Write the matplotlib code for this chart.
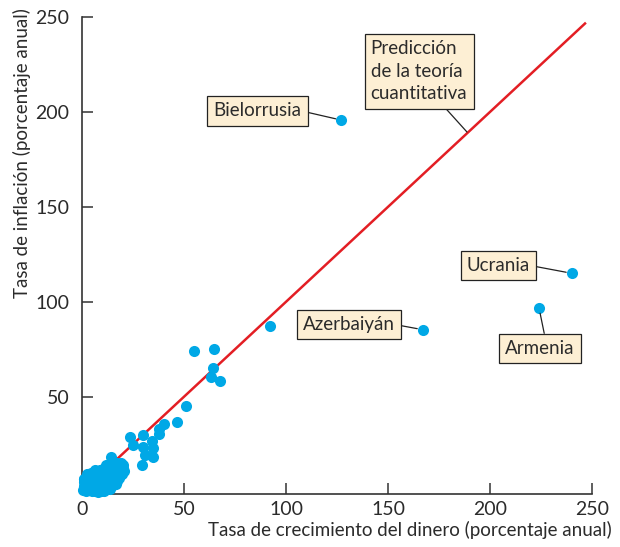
import matplotlib
matplotlib.use("Agg")
import matplotlib.pyplot as plt

plt.rcParams['font.family'] = ['Lato', 'DejaVu Sans']

# money growth (x) and inflation (y), percent per year
money_outer = [127, 240, 224, 167, 92, 55, 64.7, 64.4, 63.2, 67.6, 51, 46.4, 40.3,
               37.7, 37.7, 30, 23.5, 25.1, 34.2, 30, 35, 30.9, 34.6, 29.6, 14.2]
infl_outer = [195.7, 115, 96.8, 85.3, 87.2, 74.2, 75.1, 65.3, 60.2, 58.4, 45.1, 36.8, 35.4,
              33, 30.5, 29.7, 28.7, 24.5, 26.5, 23.7, 23.1, 19.3, 18.1, 14, 18]

money_cluster = [0.6, 1.8, 3.2, 1.2, 2.5, 0.8, 3.6, 4.3, 5.4, 6.5, 4.1, 2.9, 5.2, 6.3,
                 7.4, 8.5, 9.3, 2.2, 4.2, 5.3, 6.1, 7.3, 8.2, 9.4, 10.3, 11.2, 6.2,
                 7.1, 8.3, 9.1, 10.2, 11.4, 12.1, 13.3, 8.4, 9.2, 10.1, 11.3, 12.4,
                 13.1, 14.2, 15.3, 10.4, 11.1, 12.2, 13.4, 14.1, 15.2, 16.3, 17.1,
                 12.3, 13.2, 14.4, 15.1, 16.2, 17.4, 18.1, 15.4, 16.1, 17.2, 18.3,
                 19.1, 19.8, 17.3, 18.2, 19.4, 20.1, 19.2, 20.2, 20.4, 6.4, 3.4,
                 1.5, 0.9, 4.8, 7.8, 10.8, 13.8, 16.8, 1.1, 2.6, 4.5, 8.9, 11.8]
infl_cluster = [0.8, 0.2, 1.1, 3.2, 4.1, 5.3, 3.3, 2.1, 1.2, 0.3, 5.2, 6.4, 4.3, 3.1,
                2.2, 1.1, 0.4, 7.2, 8.1, 7.3, 6.2, 5.1, 4.2, 3.3, 2.1, 1.3, 9.2,
                8.1, 7.2, 6.1, 5.3, 4.1, 3.2, 2.2, 10.1, 9.3, 8.2, 7.1, 6.3, 5.2,
                4.1, 3.4, 12.1, 11.2, 10.1, 9.3, 8.2, 7.1, 6.3, 5.4, 13.2, 12.1,
                11.3, 10.2, 9.1, 8.3, 7.2, 14.1, 13.2, 12.3, 11.1, 10.2, 9.3,
                15.2, 14.1, 13.3, 12.2, 15.1, 14.2, 11.1, 11.2, 9.1, 2.1, 6.8,
                0.1, -0.2, 0.6, 1.4, 4.2, 6.9, 9.4, 9.9, 11.6, 14.0]

line_x = [0, 247]
line_y = [0, 247]

labels = ["Bielorrusia", "Ucrania", "Armenia", "Azerbaiyán"]
label_targets = [(127, 195.7), (240, 115), (224, 96.8), (167, 85.3)]
label_pos = [(86.0, 200.5), (204.2, 119.1), (224.5, 75.4), (130.9, 88.0)]
label_rel = [(1, 0.5), (1, 0.5), (0.58, 1), (1, 0.5)]

dot_col = '#00a8e6'
box_col = '#fdefd4'
txt_col = '#2b2b2b'

fig = plt.figure(figsize=(6.2, 5.47), dpi=100)
ax = fig.add_axes([0.1323, 0.096, 0.8226, 0.873])

ax.plot(line_x, line_y, color='#e31e24', lw=1.8, zorder=2, solid_capstyle='butt')
ax.scatter(money_cluster, infl_cluster, s=64, color=dot_col, lw=0, zorder=3, clip_on=False)
ax.scatter(money_outer, infl_outer, s=64, color=dot_col, lw=0, zorder=3, clip_on=False)

bbox = dict(boxstyle='square,pad=0.33', fc=box_col, ec='#222222', lw=0.9)
for name, xy, pos, rel in zip(labels, label_targets, label_pos, label_rel):
    ax.annotate(name, xy=xy, xytext=pos, ha='center', va='center', fontsize=13.5,
                color=txt_col, bbox=bbox,
                arrowprops=dict(arrowstyle='-', color='#222222', lw=0.9,
                                shrinkA=0, shrinkB=4, relpos=rel))

ax.annotate("Predicción\nde la teoría\ncuantitativa", xy=(188.7, 189.4),
            xytext=(165.2, 221.5), ha='center', va='center', multialignment='left',
            fontsize=13.5, color=txt_col, linespacing=1.42, bbox=bbox,
            arrowprops=dict(arrowstyle='-', color='#222222', lw=0.9,
                            shrinkA=0, shrinkB=0, relpos=(0.72, 0)))

ax.set_xlim(0, 250)
ax.set_ylim(-1.5, 250)
ax.set_xticks([0, 50, 100, 150, 200, 250])
ax.set_yticks([50, 100, 150, 200, 250])
for s in ['top', 'right']:
    ax.spines[s].set_visible(False)
for s in ['left', 'bottom']:
    ax.spines[s].set_color('#333333')
    ax.spines[s].set_linewidth(1.2)
ax.tick_params(direction='in', length=8, width=1.1, color='#333333',
               labelsize=14, labelcolor=txt_col)
ax.tick_params(axis='y', pad=9)
ax.tick_params(axis='x', pad=5)

ax.set_xlabel("Tasa de crecimiento del dinero (porcentaje anual)", fontsize=13.5,
              color=txt_col, ha='right', va='center')
ax.xaxis.set_label_coords(1.039, -0.074)
ax.set_ylabel("Tasa de inflación (porcentaje anual)", fontsize=13.5, color=txt_col)
ax.yaxis.label.set_ha('right')
ax.yaxis.label.set_va('center')
ax.yaxis.set_label_coords(-0.118, 1.019)

fig.savefig("out.png", dpi=100)
